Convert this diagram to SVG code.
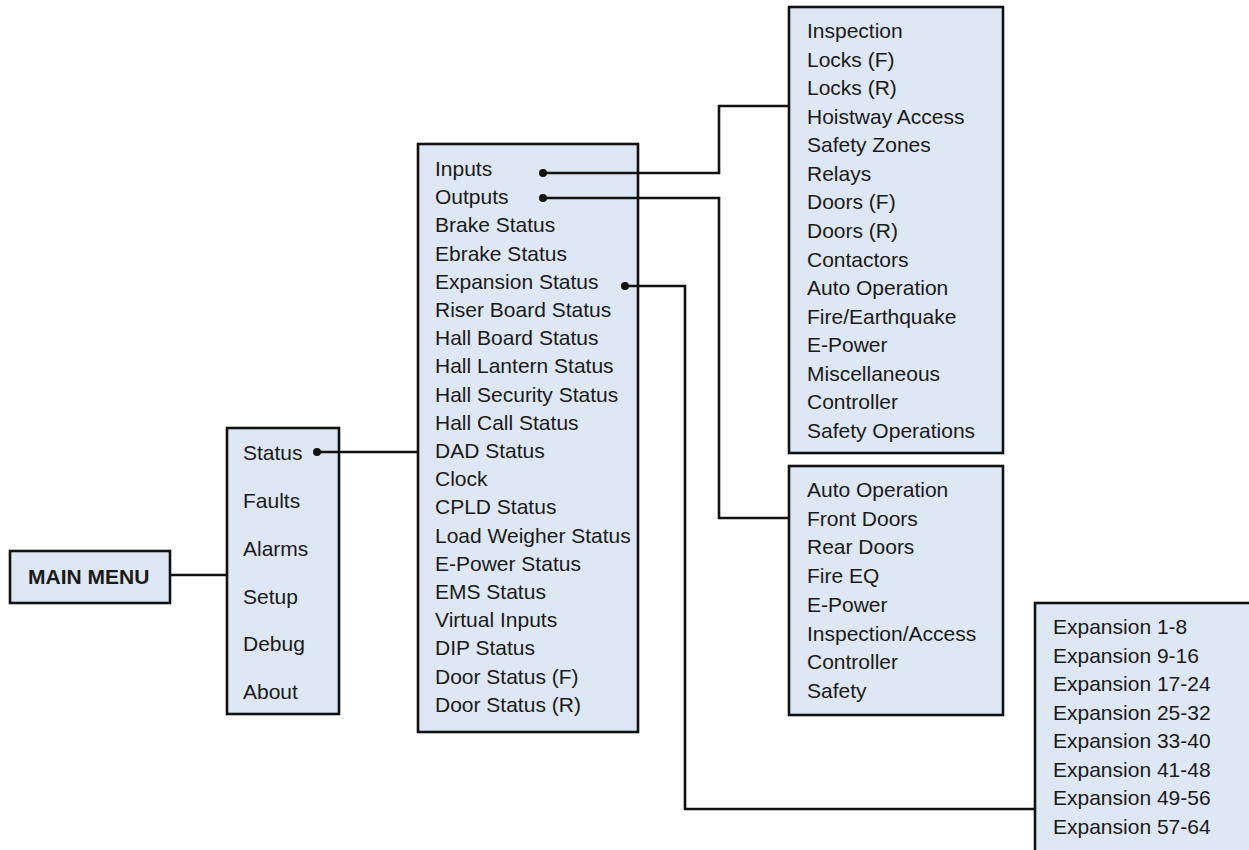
<svg xmlns="http://www.w3.org/2000/svg" width="1249" height="850" viewBox="0 0 1249 850">
<style>
.box{fill:#dde8f4;stroke:#111;stroke-width:2.6}
.t{font-family:"Liberation Sans",Arial,sans-serif;font-size:21px;fill:#1a1a1a}
.b{font-weight:bold}
.ln{fill:none;stroke:#111;stroke-width:2.6}
.dot{fill:#111}
</style>
<rect width="1249" height="850" fill="#fff"/>
<g id="main-menu">
<rect class="box" x="10" y="551" width="160" height="52"/>
<text class="t b" x="28" y="584">MAIN MENU</text>
</g>
<g id="menu">
<rect class="box" x="227" y="428" width="112" height="286"/>
<text class="t" x="243" y="460">Status</text>
<text class="t" x="243" y="508">Faults</text>
<text class="t" x="243" y="556">Alarms</text>
<text class="t" x="243" y="604">Setup</text>
<text class="t" x="243" y="651">Debug</text>
<text class="t" x="243" y="699">About</text>
</g>
<g id="status">
<rect class="box" x="418" y="144" width="220" height="588"/>
<text class="t" x="435" y="176">Inputs</text>
<text class="t" x="435" y="204.2">Outputs</text>
<text class="t" x="435" y="232.4">Brake Status</text>
<text class="t" x="435" y="260.6">Ebrake Status</text>
<text class="t" x="435" y="288.8">Expansion Status</text>
<text class="t" x="435" y="317">Riser Board Status</text>
<text class="t" x="435" y="345.2">Hall Board Status</text>
<text class="t" x="435" y="373.4">Hall Lantern Status</text>
<text class="t" x="435" y="401.6">Hall Security Status</text>
<text class="t" x="435" y="429.8">Hall Call Status</text>
<text class="t" x="435" y="458">DAD Status</text>
<text class="t" x="435" y="486.2">Clock</text>
<text class="t" x="435" y="514.4">CPLD Status</text>
<text class="t" x="435" y="542.6">Load Weigher Status</text>
<text class="t" x="435" y="570.8">E-Power Status</text>
<text class="t" x="435" y="599">EMS Status</text>
<text class="t" x="435" y="627.2">Virtual Inputs</text>
<text class="t" x="435" y="655.4">DIP Status</text>
<text class="t" x="435" y="683.6">Door Status (F)</text>
<text class="t" x="435" y="711.8">Door Status (R)</text>
</g>
<g id="inputs">
<rect class="box" x="789" y="7" width="214" height="446"/>
<text class="t" x="807" y="38">Inspection</text>
<text class="t" x="807" y="66.6">Locks (F)</text>
<text class="t" x="807" y="95.1">Locks (R)</text>
<text class="t" x="807" y="123.7">Hoistway Access</text>
<text class="t" x="807" y="152.3">Safety Zones</text>
<text class="t" x="807" y="180.9">Relays</text>
<text class="t" x="807" y="209.4">Doors (F)</text>
<text class="t" x="807" y="238">Doors (R)</text>
<text class="t" x="807" y="266.6">Contactors</text>
<text class="t" x="807" y="295.1">Auto Operation</text>
<text class="t" x="807" y="323.7">Fire/Earthquake</text>
<text class="t" x="807" y="352.3">E-Power</text>
<text class="t" x="807" y="380.9">Miscellaneous</text>
<text class="t" x="807" y="409.4">Controller</text>
<text class="t" x="807" y="438">Safety Operations</text>
</g>
<g id="outputs">
<rect class="box" x="789" y="466" width="214" height="249"/>
<text class="t" x="807" y="497">Auto Operation</text>
<text class="t" x="807" y="525.7">Front Doors</text>
<text class="t" x="807" y="554.4">Rear Doors</text>
<text class="t" x="807" y="583.1">Fire EQ</text>
<text class="t" x="807" y="611.9">E-Power</text>
<text class="t" x="807" y="640.6">Inspection/Access</text>
<text class="t" x="807" y="669.3">Controller</text>
<text class="t" x="807" y="698">Safety</text>
</g>
<g id="expansion">
<rect class="box" x="1035" y="603" width="240" height="270"/>
<text class="t" x="1053" y="634">Expansion 1-8</text>
<text class="t" x="1053" y="662.6">Expansion 9-16</text>
<text class="t" x="1053" y="691.1">Expansion 17-24</text>
<text class="t" x="1053" y="719.7">Expansion 25-32</text>
<text class="t" x="1053" y="748.3">Expansion 33-40</text>
<text class="t" x="1053" y="776.9">Expansion 41-48</text>
<text class="t" x="1053" y="805.4">Expansion 49-56</text>
<text class="t" x="1053" y="834">Expansion 57-64</text>
</g>
<g id="connectors">
<path class="ln" d="M170 575 H227"/>
<path class="ln" d="M317 452 H418"/>
<circle class="dot" cx="317" cy="452" r="4"/>
<path class="ln" d="M543 173 H719 V106 H789"/>
<circle class="dot" cx="543" cy="173" r="4"/>
<path class="ln" d="M543 198 H719 V518 H789"/>
<circle class="dot" cx="543" cy="198" r="4"/>
<path class="ln" d="M625 286 H685 V809 H1035"/>
<circle class="dot" cx="625" cy="286" r="4"/>
</g>
</svg>
